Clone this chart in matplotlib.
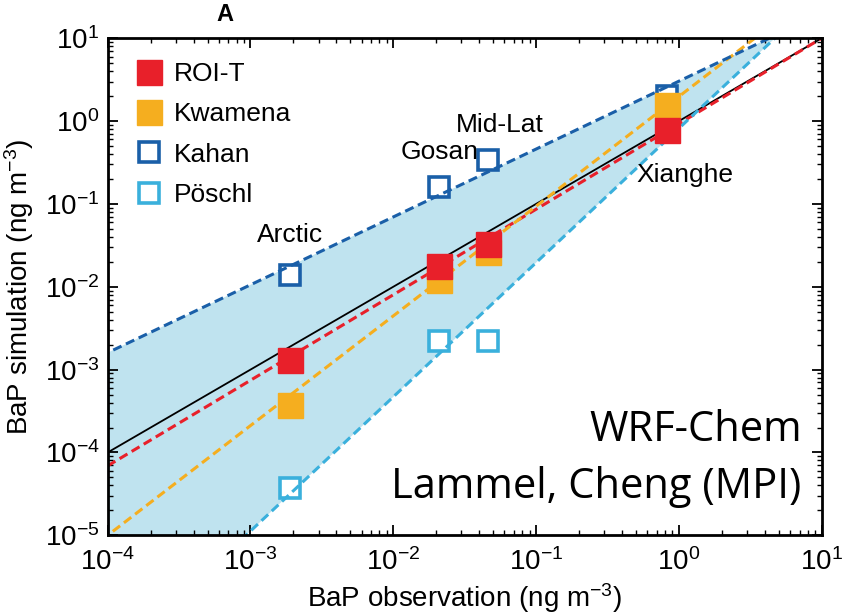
import numpy as np
import matplotlib
matplotlib.use("Agg")
import matplotlib.pyplot as plt
from matplotlib import font_manager

names = {f.name for f in font_manager.fontManager.ttflist}
base = "Liberation Sans Narrow" if "Liberation Sans Narrow" in names else "Liberation Sans"
plt.rcParams['font.family'] = [base, 'DejaVu Sans']
plt.rcParams['mathtext.fontset'] = 'custom'
plt.rcParams['mathtext.rm'] = base
plt.rcParams['mathtext.it'] = base
plt.rcParams['mathtext.bf'] = base

# Data
sites = ["Arctic", "Gosan", "Mid-Lat", "Xianghe"]
obs = [1.9e-3, 0.021, 0.046, 0.83]
roi_t = [1.3e-3, 0.018, 0.033, 0.78]
kwamena = [3.7e-4, 0.012, 0.026, 1.55]
kahan = [0.014, 0.16, 0.34, 2.0]
poschl = [3.7e-5, 2.2e-3, 2.2e-3, 1.0]
series_names = ["ROI-T", "Kwamena", "Kahan", "Pöschl"]

# fit lines given by two end points each
line_red = [(1e-4, 6.9e-5), (10, 10)]
line_orange = [(1e-4, 1e-5), (3.4, 10)]
line_dblue = [(1e-4, 1.6e-3), (4.3, 10)]
line_lblue = [(9.3e-4, 1e-5), (4.7, 10)]

RED = "#e8202a"
ORANGE = "#f5ae1f"
DBLUE = "#1a5fa8"
LBLUE = "#3ab0dc"
FILL = "#bfe3ef"

fig = plt.figure(figsize=(8.48, 6.16), dpi=100)
ax = fig.add_axes([0.127, 0.131, 0.842, 0.807])
ax.set_xscale('log')
ax.set_yscale('log')
ax.set_xlim(1e-4, 10)
ax.set_ylim(1e-5, 10)

def line_fn(pts):
    (x0, y0), (x1, y1) = pts
    lx0, ly0, lx1, ly1 = np.log10([x0, y0, x1, y1])
    s = (ly1 - ly0) / (lx1 - lx0)
    return lambda x: 10 ** (ly0 + s * (np.log10(x) - lx0))

xx = np.logspace(-5, 2, 400)
fu = line_fn(line_dblue)
fl = line_fn(line_lblue)
ax.fill_between(xx, fl(xx), fu(xx), color=FILL, lw=0, zorder=1)

ax.plot(obs, poschl, 's', ms=14, mfc='white', mec=LBLUE, mew=2.6, ls='none', zorder=2)
ax.plot(obs, kahan, 's', ms=14, mfc='white', mec=DBLUE, mew=2.6, ls='none', zorder=2.5)

ax.plot([1e-5, 100], [1e-5, 100], color='black', lw=1.3, zorder=3)
for pts, c in [(line_red, RED), (line_orange, ORANGE), (line_dblue, DBLUE), (line_lblue, LBLUE)]:
    f = line_fn(pts)
    ax.plot(xx, f(xx), color=c, lw=2.2, ls=(0, (3, 1.6)), zorder=4)

ms = 18
ax.plot(obs, kwamena, 's', ms=ms, color=ORANGE, ls='none', zorder=6)
ax.plot(obs, roi_t, 's', ms=ms, color=RED, ls='none', zorder=7)

# legend handles
h = [plt.Line2D([], [], marker='s', ms=ms, color=RED, ls='none'),
     plt.Line2D([], [], marker='s', ms=ms, color=ORANGE, ls='none'),
     plt.Line2D([], [], marker='s', ms=14, mfc='white', mec=DBLUE, mew=2.6, ls='none'),
     plt.Line2D([], [], marker='s', ms=14, mfc='white', mec=LBLUE, mew=2.6, ls='none')]
ax.legend(h, series_names, loc='upper left', bbox_to_anchor=(0.0, 1.0), frameon=False,
          fontsize=19, handletextpad=0.3, labelspacing=0.62, borderaxespad=0.5, handlelength=1.3)

# site labels
ax.text(obs[0], 0.03, "Arctic", fontsize=19, ha='center', va='bottom', zorder=8)
ax.text(obs[1], 0.3, "Gosan", fontsize=19, ha='center', va='bottom', zorder=8)
ax.text(0.056, 0.65, "Mid-Lat", fontsize=19, ha='center', va='bottom', zorder=8)
ax.text(1.1, 0.31, "Xianghe", fontsize=19, ha='center', va='top', zorder=8)

ax.text(0.972, 0.211, "WRF-Chem", transform=ax.transAxes,
        ha='right', va='center', fontsize=30, family=['Open Sans', 'DejaVu Sans'], zorder=9)
ax.text(0.972, 0.097, "Lammel, Cheng (MPI)", transform=ax.transAxes,
        ha='right', va='center', fontsize=30, family=['Open Sans', 'DejaVu Sans'], zorder=9)

ax.set_xlabel("BaP observation (ng m$^{-3}$)", fontsize=20, labelpad=4)
ax.set_ylabel("BaP simulation (ng m$^{-3}$)", fontsize=20, labelpad=6)
ax.tick_params(which='both', direction='in', top=True, right=True, labelsize=20)
ax.tick_params(which='major', length=7, width=1.3)
ax.tick_params(which='minor', length=3.5, width=1)
ax.set_xticks([1e-4, 1e-3, 1e-2, 1e-1, 1, 10])
ax.set_yticks([1e-5, 1e-4, 1e-3, 1e-2, 1e-1, 1, 10])
ax.tick_params(axis='x', pad=9)
ax.tick_params(axis='y', pad=6)
for s in ax.spines.values():
    s.set_linewidth(2)
    s.set_zorder(10)

fig.text(0.265, 1 - 21 / 616, "A", fontsize=17, fontweight='bold', ha='center', va='baseline')

fig.savefig("out.png", dpi=100)
